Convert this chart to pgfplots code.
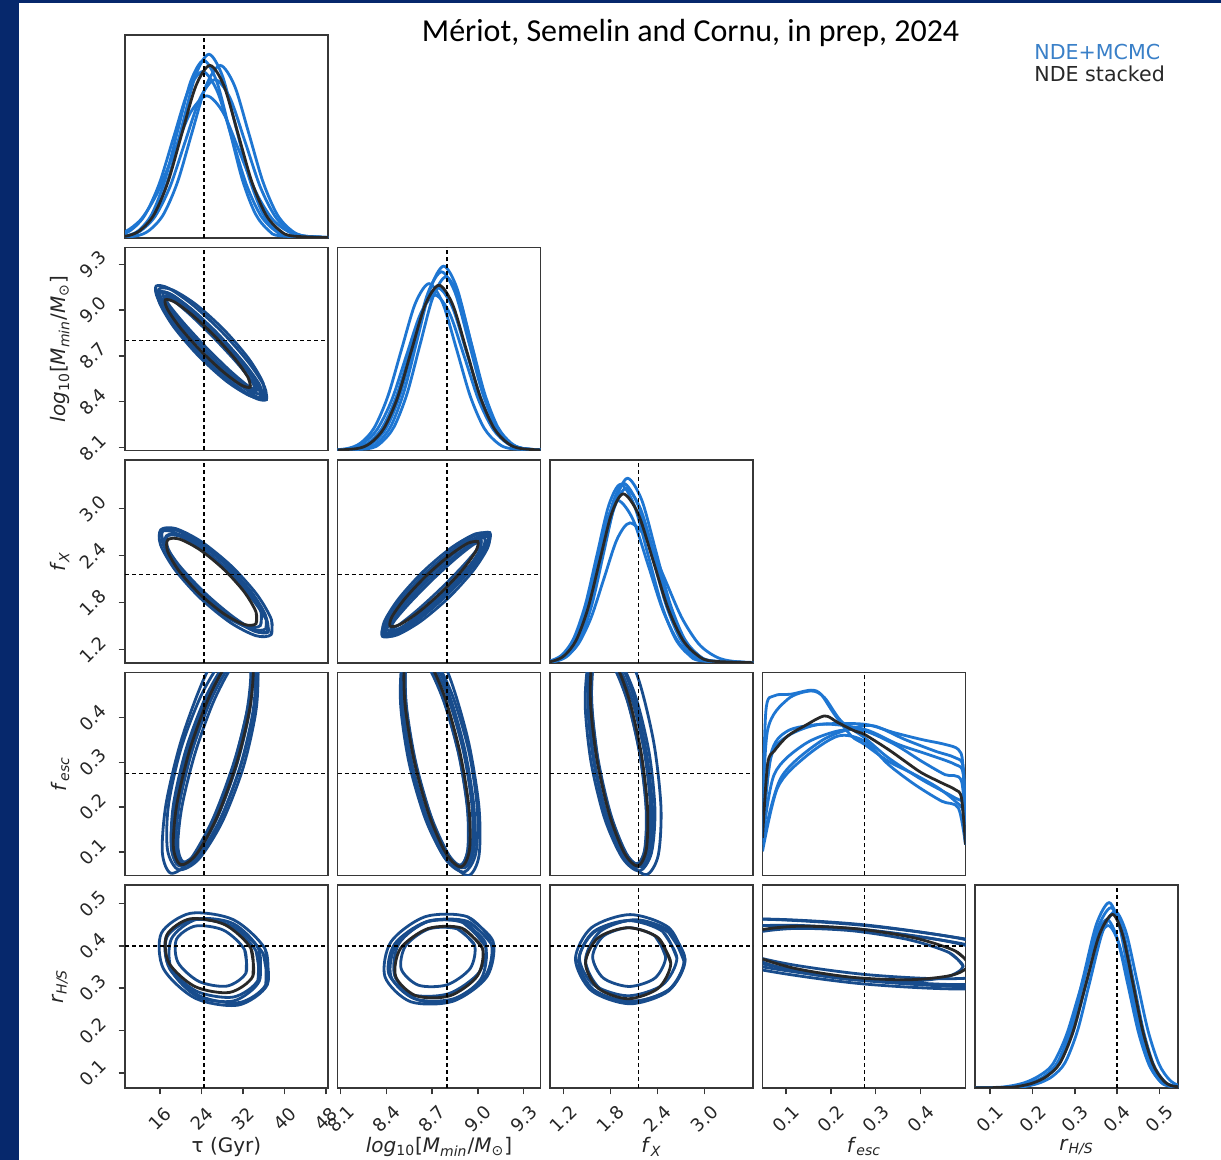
\documentclass[border=0pt]{standalone}
\usepackage{fontspec}
\setmainfont{DejaVu Sans}
\newfontfamily\titlefont{Carlito}
\usepackage{pgfplots}
\pgfplotsset{compat=1.18}

\definecolor{slide}{RGB}{6,40,108}
\definecolor{framecol}{RGB}{55,55,55}
\definecolor{mcmcblue}{RGB}{30,118,210}
\definecolor{contnavy}{RGB}{24,76,140}
\definecolor{stackcol}{RGB}{40,40,40}
\definecolor{legblue}{RGB}{58,128,200}

\newcommand{\lblM}{\textit{log}\textsubscript{10}[\textit{M}\textsubscript{\textit{min}}/\textit{M}\textsubscript{⊙}]}
\newcommand{\lblX}{\textit{f}\textsubscript{\textit{X}}}
\newcommand{\lblE}{\textit{f}\textsubscript{\textit{esc}}}
\newcommand{\lblR}{\textit{r}\textsubscript{\textit{H/S}}}

\pgfplotsset{
  panel/.style={scale only axis, width=101.5pt, height=101.5pt, anchor=north west,
    axis line style={framecol, line width=0.75pt},
    xtick=\empty, ytick=\empty, tick align=outside,
    xtick pos=left, ytick pos=left, major tick length=3.2pt,
    every tick/.style={framecol, line width=0.75pt},
    tick label style={font=\fontsize{9}{10}\selectfont, text=black!85, inner sep=0.5pt},
    xticklabel style={rotate=45, anchor=center},
    yticklabel style={rotate=45, anchor=center},
    xticklabel shift=12pt, yticklabel shift=13pt,
    label style={font=\fontsize{10}{12}\selectfont, text=black!85, inner sep=0pt},
    xlabel style={at={(axis description cs:0.5,-0.29)}, anchor=center},
    ylabel style={at={(axis description cs:-0.32,0.5)}, anchor=center}},
  taux/.style={xmin=9.2, xmax=48.4},
  mx/.style={xmin=8.08, xmax=9.41},
  fxx/.style={xmin=1.03, xmax=3.62},
  ex/.style={xmin=0.048, xmax=0.50},
  rx/.style={xmin=0.064, xmax=0.544},
  my/.style={ymin=8.08, ymax=9.41, ytick={8.1,8.4,8.7,9.0,9.3}, yticklabels={8.1,8.4,8.7,9.0,9.3}},
  fxy/.style={ymin=1.03, ymax=3.62, ytick={1.2,1.8,2.4,3.0}, yticklabels={1.2,1.8,2.4,3.0}},
  ey/.style={ymin=0.048, ymax=0.50, ytick={0.1,0.2,0.3,0.4}, yticklabels={0.1,0.2,0.3,0.4}},
  ry/.style={ymin=0.064, ymax=0.544, ytick={0.1,0.2,0.3,0.4,0.5}, yticklabels={0.1,0.2,0.3,0.4,0.5}},
  my0/.style={ymin=8.08, ymax=9.41},
  fxy0/.style={ymin=1.03, ymax=3.62},
  ey0/.style={ymin=0.048, ymax=0.50},
  ry0/.style={ymin=0.064, ymax=0.544},
  pdf/.style={ymin=0, ymax=1},
  mc/.style={mcmcblue, line width=1.4pt, smooth},
  st/.style={stackcol, line width=1.4pt, smooth},
  ct/.style={contnavy, line width=1.4pt, smooth},
  truth/.style={black, line width=0.9pt, dash pattern=on 2.2pt off 1.3pt},
}

\begin{document}
\begin{tikzpicture}[x=1pt,y=1pt]
\fill[white] (0pt,0pt) rectangle (610.5pt,580pt);
\fill[slide] (0pt,0pt) rectangle (9.5pt,580pt);
\fill[slide] (0pt,578.5pt) rectangle (610.5pt,580pt);
\useasboundingbox (0pt,0pt) rectangle (610.5pt,580pt);

\node[font=\titlefont\fontsize{16}{19}\selectfont, anchor=base] at (345.3pt,559pt) {Mériot, Semelin and Cornu, in prep, 2024};
\node[font=\fontsize{10.3}{12}\selectfont, text=legblue, anchor=base west, inner sep=0pt] at (517pt,550pt) {NDE+MCMC};
\node[font=\fontsize{10.3}{12}\selectfont, text=stackcol, anchor=base west, inner sep=0pt] at (517pt,539pt) {NDE stacked};

% ---------------- row 0 : tau
\begin{axis}[panel, at={(62.5pt,562.5pt)}, taux, pdf]
\addplot[mc] coordinates {(5,0) (9.8,0.010) (12.4,0.040) (15.0,0.122) (17.6,0.294) (20.2,0.549) (22.8,0.799) (25.4,0.905) (28.0,0.799) (30.6,0.549) (33.2,0.294) (35.8,0.122) (38.4,0.040) (41.0,0.010) (52,0)};
\addplot[mc] coordinates {(5,0) (11.1,0.009) (13.85,0.037) (16.6,0.115) (19.35,0.276) (22.1,0.516) (24.85,0.750) (27.6,0.85) (30.35,0.750) (33.1,0.516) (35.85,0.276) (38.6,0.115) (41.35,0.037) (44.1,0.009) (52,0)};
\addplot[mc] coordinates {(5,0) (9.4,0.010) (11.9,0.038) (14.4,0.118) (16.9,0.284) (19.4,0.531) (21.9,0.772) (24.4,0.875) (26.9,0.772) (29.4,0.531) (31.9,0.284) (34.4,0.118) (36.9,0.038) (39.4,0.010) (52,0)};
\addplot[mc] coordinates {(5,0) (6.1,0.008) (9.25,0.031) (12.4,0.095) (15.55,0.227) (18.7,0.425) (21.85,0.618) (25.0,0.70) (28.15,0.618) (31.3,0.425) (34.45,0.227) (37.6,0.095) (40.75,0.031) (43.9,0.008) (52,0)};
\addplot[mc] coordinates {(5,0) (9.2,0.009) (12.1,0.034) (15.0,0.106) (17.9,0.253) (20.8,0.473) (23.7,0.688) (26.6,0.78) (29.5,0.688) (32.4,0.473) (35.3,0.253) (38.2,0.106) (41.1,0.034) (44.0,0.009) (52,0)};
\addplot[mc] coordinates {(5,0) (7.4,0.009) (10.2,0.036) (13.0,0.111) (15.8,0.266) (18.6,0.497) (21.4,0.724) (24.2,0.82) (27.0,0.724) (29.8,0.497) (32.6,0.266) (35.4,0.111) (38.2,0.036) (41.0,0.009) (52,0)};
\addplot[st] coordinates {(5,0) (9.4,0.009) (12.1,0.037) (14.8,0.115) (17.5,0.276) (20.2,0.516) (22.9,0.750) (25.6,0.850) (28.3,0.750) (31.0,0.516) (33.7,0.276) (36.4,0.115) (39.1,0.037) (41.8,0.009) (52,0)};
\addplot[truth] coordinates {(24.4,0) (24.4,1)};
\end{axis}

% ---------------- row 1 : log10 Mmin
\begin{axis}[panel, at={(62.5pt,456.25pt)}, taux, my, ylabel={\lblM}]
\addplot[ct] coordinates {(36.52,8.413) (36.14,8.498) (33.01,8.659) (27.97,8.855) (22.36,9.031) (17.69,9.142) (15.21,9.157) (15.58,9.072) (18.71,8.911) (23.75,8.716) (29.36,8.539) (34.03,8.428) (36.52,8.413) (36.14,8.498)};
\addplot[ct] coordinates {(35.31,8.429) (34.90,8.505) (31.97,8.653) (27.30,8.832) (22.13,8.996) (17.87,9.099) (15.64,9.115) (16.04,9.039) (18.97,8.892) (23.64,8.712) (28.81,8.548) (33.07,8.445) (35.31,8.429) (34.90,8.505)};
\addplot[ct] coordinates {(35.69,8.448) (35.11,8.516) (32.13,8.655) (27.54,8.828) (22.57,8.989) (18.55,9.094) (16.57,9.116) (17.15,9.048) (20.13,8.909) (24.72,8.736) (29.69,8.575) (33.71,8.470) (35.69,8.448) (35.11,8.516)};
\addplot[ct] coordinates {(34.56,8.470) (34.16,8.541) (31.38,8.680) (26.96,8.850) (22.09,9.004) (18.07,9.103) (15.98,9.118) (16.38,9.047) (19.16,8.908) (23.58,8.738) (28.45,8.584) (32.47,8.485) (34.56,8.470) (34.16,8.541)};
\addplot[ct] coordinates {(36.09,8.416) (35.37,8.484) (32.13,8.629) (27.25,8.811) (22.02,8.982) (17.86,9.095) (15.87,9.122) (16.59,9.054) (19.83,8.909) (24.72,8.727) (29.94,8.557) (34.10,8.443) (36.09,8.416) (35.37,8.484)};
\addplot[ct] coordinates {(34.40,8.480) (33.65,8.535) (30.76,8.657) (26.50,8.813) (22.02,8.962) (18.51,9.063) (16.92,9.090) (17.67,9.035) (20.56,8.914) (24.82,8.757) (29.30,8.608) (32.81,8.507) (34.40,8.480) (33.65,8.535)};
\addplot[ct] coordinates {(35.97,8.432) (35.88,8.521) (33.11,8.681) (28.39,8.868) (23.00,9.034) (18.37,9.132) (15.75,9.138) (15.84,9.049) (18.62,8.889) (23.33,8.702) (28.72,8.536) (33.35,8.438) (35.97,8.432) (35.88,8.521)};
\addplot[st] coordinates {(33.39,8.495) (32.99,8.556) (30.51,8.678) (26.60,8.827) (22.31,8.964) (18.80,9.052) (16.99,9.067) (17.39,9.006) (19.87,8.884) (23.78,8.735) (28.07,8.598) (31.59,8.510) (33.39,8.495) (32.99,8.556)};
\addplot[truth] coordinates {(24.4,8.08) (24.4,9.41)};
\addplot[truth] coordinates {(9.2,8.8) (48.4,8.8)};
\end{axis}

\begin{axis}[panel, at={(168.75pt,456.25pt)}, mx, pdf]
\addplot[mc] coordinates {(8.0,0) (8.260,0.010) (8.346,0.040) (8.432,0.123) (8.518,0.295) (8.604,0.551) (8.690,0.801) (8.776,0.908) (8.862,0.801) (8.948,0.551) (9.034,0.295) (9.120,0.123) (9.206,0.040) (9.292,0.010) (9.5,0)};
\addplot[mc] coordinates {(8.0,0) (8.228,0.010) (8.317,0.039) (8.406,0.119) (8.495,0.286) (8.584,0.534) (8.673,0.777) (8.762,0.88) (8.851,0.777) (8.940,0.534) (9.029,0.286) (9.118,0.119) (9.207,0.039) (9.296,0.010) (9.5,0)};
\addplot[mc] coordinates {(8.0,0) (8.14,0.009) (8.23,0.036) (8.32,0.111) (8.41,0.267) (8.50,0.499) (8.59,0.725) (8.68,0.822) (8.77,0.725) (8.86,0.499) (8.95,0.267) (9.04,0.111) (9.13,0.036) (9.22,0.009) (9.5,0)};
\addplot[mc] coordinates {(8.0,0) (8.15,0.008) (8.245,0.034) (8.34,0.104) (8.435,0.248) (8.53,0.464) (8.625,0.675) (8.72,0.765) (8.815,0.675) (8.91,0.464) (9.005,0.248) (9.10,0.104) (9.195,0.034) (9.29,0.008) (9.5,0)};
\addplot[mc] coordinates {(8.0,0) (8.28,0.009) (8.365,0.038) (8.45,0.116) (8.535,0.278) (8.62,0.519) (8.705,0.755) (8.79,0.855) (8.875,0.755) (8.96,0.519) (9.045,0.278) (9.13,0.116) (9.215,0.038) (9.30,0.009) (9.5,0)};
\addplot[mc] coordinates {(8.0,0) (8.185,0.009) (8.2775,0.035) (8.37,0.108) (8.4625,0.260) (8.555,0.485) (8.6475,0.706) (8.74,0.80) (8.8325,0.706) (8.925,0.485) (9.0175,0.260) (9.11,0.108) (9.2025,0.035) (9.295,0.009) (9.5,0)};
\addplot[st] coordinates {(8.0,0) (8.205,0.009) (8.295,0.036) (8.385,0.110) (8.475,0.264) (8.565,0.494) (8.655,0.718) (8.745,0.814) (8.835,0.718) (8.925,0.494) (9.015,0.264) (9.105,0.110) (9.195,0.036) (9.285,0.009) (9.5,0)};
\addplot[truth] coordinates {(8.8,0) (8.8,1)};
\end{axis}

% ---------------- row 2 : f_X
\begin{axis}[panel, at={(62.5pt,350pt)}, taux, fxy, ylabel={\lblX}]
\addplot[ct] coordinates {(37.40,1.391) (37.47,1.584) (34.66,1.905) (29.74,2.267) (24.02,2.575) (19.03,2.744) (16.12,2.731) (16.06,2.538) (18.86,2.218) (23.78,1.855) (29.51,1.547) (34.49,1.378) (37.40,1.391) (37.47,1.584)};
\addplot[ct] coordinates {(36.38,1.467) (36.34,1.639) (33.64,1.933) (29.02,2.270) (23.71,2.559) (19.13,2.723) (16.52,2.718) (16.56,2.545) (19.26,2.251) (23.88,1.914) (29.19,1.625) (33.77,1.461) (36.38,1.467) (36.34,1.639)};
\addplot[ct] coordinates {(36.69,1.432) (36.55,1.594) (33.86,1.874) (29.34,2.199) (24.21,2.482) (19.83,2.646) (17.39,2.648) (17.53,2.487) (20.22,2.206) (24.74,1.881) (29.87,1.598) (34.25,1.434) (36.69,1.432) (36.55,1.594)};
\addplot[ct] coordinates {(35.33,1.507) (35.47,1.678) (33.13,1.956) (28.96,2.267) (24.05,2.527) (19.74,2.668) (17.17,2.651) (17.03,2.480) (19.37,2.203) (23.55,1.892) (28.45,1.631) (32.76,1.490) (35.33,1.507) (35.47,1.678)};
\addplot[ct] coordinates {(36.86,1.423) (36.50,1.579) (33.51,1.866) (28.67,2.207) (23.29,2.510) (18.81,2.693) (16.42,2.709) (16.78,2.553) (19.77,2.266) (24.61,1.925) (29.99,1.623) (34.47,1.439) (36.86,1.423) (36.50,1.579)};
\addplot[st] coordinates {(34.49,1.530) (34.50,1.681) (32.23,1.936) (28.28,2.225) (23.71,2.472) (19.76,2.610) (17.47,2.602) (17.46,2.451) (19.73,2.196) (23.68,1.907) (28.25,1.660) (32.20,1.522) (34.49,1.530) (34.50,1.681)};
\addplot[truth] coordinates {(24.4,1.03) (24.4,3.62)};
\addplot[truth] coordinates {(9.2,2.16) (48.4,2.16)};
\end{axis}

\begin{axis}[panel, at={(168.75pt,350pt)}, mx, fxy0]
\addplot[ct] coordinates {(9.078,2.694) (8.996,2.675) (8.842,2.484) (8.657,2.172) (8.490,1.822) (8.387,1.528) (8.374,1.370) (8.456,1.389) (8.610,1.580) (8.795,1.892) (8.962,2.242) (9.065,2.536) (9.078,2.694) (8.996,2.675)};
\addplot[ct] coordinates {(9.043,2.626) (8.969,2.605) (8.829,2.425) (8.658,2.135) (8.503,1.813) (8.406,1.545) (8.393,1.402) (8.467,1.424) (8.607,1.603) (8.778,1.893) (8.933,2.215) (9.030,2.484) (9.043,2.626) (8.969,2.605)};
\addplot[ct] coordinates {(9.069,2.675) (8.999,2.642) (8.857,2.449) (8.683,2.147) (8.523,1.819) (8.419,1.551) (8.399,1.415) (8.470,1.448) (8.611,1.641) (8.785,1.943) (8.945,2.271) (9.049,2.539) (9.069,2.675) (8.999,2.642)};
\addplot[ct] coordinates {(9.018,2.603) (8.945,2.591) (8.809,2.428) (8.647,2.157) (8.503,1.852) (8.415,1.593) (8.406,1.451) (8.479,1.463) (8.615,1.626) (8.777,1.897) (8.921,2.202) (9.009,2.461) (9.018,2.603) (8.945,2.591)};
\addplot[ct] coordinates {(9.069,2.648) (9.000,2.609) (8.859,2.409) (8.683,2.102) (8.519,1.770) (8.412,1.502) (8.390,1.370) (8.458,1.409) (8.599,1.609) (8.775,1.916) (8.939,2.248) (9.046,2.516) (9.069,2.648) (9.000,2.609)};
\addplot[ct] coordinates {(9.022,2.585) (8.968,2.538) (8.849,2.354) (8.697,2.083) (8.553,1.796) (8.454,1.572) (8.429,1.469) (8.482,1.516) (8.601,1.700) (8.753,1.971) (8.897,2.258) (8.996,2.482) (9.022,2.585) (8.968,2.538)};
\addplot[ct] coordinates {(9.070,2.680) (8.983,2.677) (8.826,2.501) (8.643,2.200) (8.482,1.853) (8.386,1.555) (8.382,1.384) (8.469,1.387) (8.626,1.563) (8.809,1.864) (8.970,2.211) (9.066,2.509) (9.070,2.680) (8.983,2.677)};
\addplot[st] coordinates {(8.999,2.580) (8.935,2.559) (8.812,2.399) (8.661,2.142) (8.525,1.859) (8.438,1.624) (8.425,1.500) (8.489,1.521) (8.613,1.681) (8.763,1.938) (8.900,2.221) (8.986,2.456) (8.999,2.580) (8.935,2.559)};
\addplot[truth] coordinates {(8.8,1.03) (8.8,3.62)};
\addplot[truth] coordinates {(8.08,2.16) (9.41,2.16)};
\end{axis}

\begin{axis}[panel, at={(275pt,350pt)}, fxx, pdf]
\addplot[mc] coordinates {(0.9,0) (1.12,0.010) (1.27,0.040) (1.42,0.123) (1.57,0.295) (1.72,0.552) (1.87,0.803) (2.02,0.91) (2.20,0.803) (2.38,0.552) (2.56,0.295) (2.74,0.123) (2.92,0.040) (3.10,0.010) (3.8,0)};
\addplot[mc] coordinates {(0.9,0) (1.10,0.010) (1.245,0.039) (1.39,0.120) (1.535,0.287) (1.68,0.537) (1.825,0.781) (1.97,0.885) (2.15,0.781) (2.33,0.537) (2.51,0.287) (2.69,0.120) (2.87,0.039) (3.05,0.010) (3.8,0)};
\addplot[mc] coordinates {(0.9,0) (1.06,0.009) (1.20,0.035) (1.34,0.108) (1.48,0.260) (1.62,0.485) (1.76,0.706) (1.90,0.80) (2.09,0.706) (2.28,0.485) (2.47,0.260) (2.66,0.108) (2.85,0.035) (3.04,0.009) (3.8,0)};
\addplot[mc] coordinates {(0.9,0) (1.06,0.008) (1.225,0.030) (1.39,0.093) (1.555,0.224) (1.72,0.418) (1.885,0.609) (2.05,0.69) (2.27,0.609) (2.49,0.418) (2.71,0.224) (2.93,0.093) (3.15,0.030) (3.37,0.008) (3.8,0)};
\addplot[mc] coordinates {(0.9,0) (1.07,0.010) (1.225,0.038) (1.38,0.116) (1.535,0.279) (1.69,0.522) (1.845,0.759) (2.00,0.86) (2.185,0.759) (2.37,0.522) (2.555,0.279) (2.74,0.116) (2.925,0.038) (3.11,0.010) (3.8,0)};
\addplot[mc] coordinates {(0.9,0) (1.03,0.010) (1.18,0.039) (1.33,0.119) (1.48,0.286) (1.63,0.534) (1.78,0.777) (1.93,0.88) (2.105,0.777) (2.28,0.534) (2.455,0.286) (2.63,0.119) (2.805,0.039) (2.98,0.010) (3.8,0)};
\addplot[st] coordinates {(0.9,0) (1.065,0.009) (1.215,0.037) (1.365,0.113) (1.515,0.270) (1.665,0.505) (1.815,0.735) (1.965,0.833) (2.155,0.735) (2.345,0.505) (2.535,0.270) (2.725,0.113) (2.915,0.037) (3.105,0.009) (3.8,0)};
\addplot[truth] coordinates {(2.16,0) (2.16,1)};
\end{axis}

% ---------------- row 3 : f_esc
\begin{axis}[panel, at={(62.5pt,243.75pt)}, taux, ey, ylabel={\lblE}]
\addplot[ct] coordinates {(32.55,0.552) (29.08,0.529) (24.85,0.447) (20.99,0.329) (18.55,0.206) (18.17,0.111) (19.95,0.070) (23.42,0.093) (27.65,0.175) (31.51,0.293) (33.95,0.416) (34.34,0.511) (32.55,0.552) (29.08,0.529)};
\addplot[ct] coordinates {(32.05,0.544) (28.87,0.520) (24.89,0.439) (21.17,0.323) (18.70,0.202) (18.15,0.109) (19.67,0.069) (22.85,0.093) (26.83,0.174) (30.55,0.290) (33.02,0.411) (33.57,0.504) (32.05,0.544) (28.87,0.520)};
\addplot[ct] coordinates {(33.25,0.561) (29.95,0.537) (25.82,0.453) (21.96,0.332) (19.41,0.207) (18.85,0.111) (20.43,0.070) (23.73,0.094) (27.86,0.178) (31.72,0.299) (34.28,0.424) (34.84,0.520) (33.25,0.561) (29.95,0.537)};
\addplot[ct] coordinates {(32.53,0.542) (29.55,0.518) (25.75,0.438) (22.13,0.324) (19.67,0.205) (19.03,0.115) (20.38,0.076) (23.35,0.100) (27.15,0.180) (30.77,0.294) (33.23,0.412) (33.87,0.503) (32.53,0.542) (29.55,0.518)};
\addplot[ct] coordinates {(32.47,0.605) (28.88,0.577) (24.32,0.483) (20.01,0.347) (17.12,0.207) (16.41,0.099) (18.07,0.053) (21.66,0.081) (26.22,0.175) (30.53,0.311) (33.42,0.451) (34.13,0.559) (32.47,0.605) (28.88,0.577)};
\addplot[ct] coordinates {(32.59,0.561) (28.71,0.538) (24.12,0.454) (20.05,0.332) (17.59,0.204) (17.41,0.105) (19.54,0.061) (23.41,0.084) (28.00,0.168) (32.07,0.290) (34.53,0.418) (34.72,0.517) (32.59,0.561) (28.71,0.538)};
\addplot[ct] coordinates {(32.41,0.535) (29.74,0.511) (26.18,0.432) (22.70,0.319) (20.22,0.203) (19.41,0.115) (20.49,0.078) (23.16,0.102) (26.72,0.181) (30.20,0.294) (32.68,0.410) (33.49,0.498) (32.41,0.535) (29.74,0.511)};
\addplot[st] coordinates {(32.55,0.555) (29.45,0.530) (25.50,0.447) (21.74,0.329) (19.20,0.206) (18.54,0.112) (19.95,0.072) (23.05,0.096) (27.00,0.179) (30.76,0.298) (33.30,0.420) (33.96,0.515) (32.55,0.555) (29.45,0.530)};
\addplot[truth] coordinates {(24.4,0.048) (24.4,0.50)};
\addplot[truth] coordinates {(9.2,0.275) (48.4,0.275)};
\end{axis}

\begin{axis}[panel, at={(168.75pt,243.75pt)}, mx, ey0]
\addplot[ct] coordinates {(8.577,0.557) (8.683,0.531) (8.803,0.445) (8.905,0.324) (8.962,0.199) (8.959,0.104) (8.895,0.065) (8.790,0.092) (8.669,0.177) (8.567,0.299) (8.510,0.423) (8.514,0.518) (8.577,0.557) (8.683,0.531)};
\addplot[ct] coordinates {(8.562,0.548) (8.661,0.522) (8.775,0.437) (8.874,0.318) (8.931,0.196) (8.932,0.103) (8.875,0.065) (8.776,0.091) (8.661,0.176) (8.562,0.295) (8.505,0.417) (8.505,0.510) (8.562,0.548) (8.661,0.522)};
\addplot[ct] coordinates {(8.590,0.566) (8.693,0.539) (8.812,0.451) (8.914,0.328) (8.974,0.201) (8.974,0.105) (8.914,0.065) (8.811,0.093) (8.693,0.180) (8.590,0.304) (8.530,0.431) (8.530,0.527) (8.590,0.566) (8.693,0.539)};
\addplot[ct] coordinates {(8.578,0.546) (8.670,0.520) (8.779,0.437) (8.875,0.319) (8.933,0.199) (8.937,0.109) (8.886,0.071) (8.794,0.098) (8.685,0.181) (8.589,0.298) (8.531,0.418) (8.527,0.509) (8.578,0.546) (8.670,0.520)};
\addplot[ct] coordinates {(8.576,0.610) (8.691,0.580) (8.824,0.481) (8.940,0.343) (9.007,0.200) (9.007,0.092) (8.940,0.048) (8.825,0.079) (8.692,0.177) (8.576,0.316) (8.509,0.458) (8.509,0.566) (8.576,0.610) (8.691,0.580)};
\addplot[ct] coordinates {(8.580,0.566) (8.700,0.539) (8.831,0.451) (8.940,0.325) (8.996,0.196) (8.986,0.097) (8.910,0.056) (8.791,0.083) (8.659,0.171) (8.550,0.297) (8.494,0.426) (8.505,0.525) (8.580,0.566) (8.700,0.539)};
\addplot[st] coordinates {(8.573,0.560) (8.669,0.532) (8.782,0.446) (8.881,0.324) (8.941,0.200) (8.945,0.106) (8.891,0.067) (8.795,0.095) (8.682,0.181) (8.583,0.302) (8.523,0.427) (8.519,0.521) (8.573,0.560) (8.669,0.532)};
\addplot[truth] coordinates {(8.8,0.048) (8.8,0.50)};
\addplot[truth] coordinates {(8.08,0.275) (9.41,0.275)};
\end{axis}

\begin{axis}[panel, at={(275pt,243.75pt)}, fxx, ey0]
\addplot[ct] coordinates {(1.677,0.555) (1.869,0.527) (2.073,0.441) (2.235,0.321) (2.312,0.197) (2.283,0.105) (2.155,0.067) (1.964,0.095) (1.759,0.181) (1.597,0.302) (1.520,0.425) (1.549,0.518) (1.677,0.555) (1.869,0.527)};
\addplot[ct] coordinates {(1.650,0.546) (1.828,0.518) (2.022,0.434) (2.179,0.315) (2.257,0.194) (2.235,0.103) (2.120,0.067) (1.942,0.095) (1.748,0.179) (1.591,0.298) (1.513,0.419) (1.535,0.510) (1.650,0.546) (1.828,0.518)};
\addplot[ct] coordinates {(1.706,0.564) (1.892,0.535) (2.094,0.448) (2.257,0.325) (2.337,0.199) (2.314,0.105) (2.194,0.067) (2.008,0.096) (1.807,0.183) (1.644,0.306) (1.563,0.432) (1.586,0.526) (1.706,0.564) (1.892,0.535)};
\addplot[ct] coordinates {(1.680,0.544) (1.845,0.517) (2.028,0.433) (2.179,0.317) (2.259,0.198) (2.245,0.109) (2.142,0.074) (1.977,0.101) (1.794,0.184) (1.643,0.301) (1.563,0.420) (1.577,0.509) (1.680,0.544) (1.845,0.517)};
\addplot[ct] coordinates {(1.714,0.609) (1.936,0.577) (2.172,0.478) (2.358,0.340) (2.446,0.199) (2.411,0.093) (2.262,0.050) (2.040,0.081) (1.804,0.180) (1.618,0.318) (1.530,0.459) (1.565,0.565) (1.714,0.609) (1.936,0.577)};
\addplot[ct] coordinates {(1.676,0.564) (1.894,0.536) (2.121,0.447) (2.294,0.322) (2.369,0.194) (2.324,0.098) (2.172,0.058) (1.954,0.087) (1.727,0.175) (1.554,0.300) (1.479,0.428) (1.524,0.525) (1.676,0.564) (1.894,0.536)};
\addplot[st] coordinates {(1.672,0.557) (1.844,0.529) (2.035,0.443) (2.192,0.322) (2.274,0.199) (2.259,0.106) (2.150,0.069) (1.978,0.098) (1.787,0.184) (1.630,0.305) (1.548,0.428) (1.563,0.520) (1.672,0.557) (1.844,0.529)};
\addplot[truth] coordinates {(2.16,0.048) (2.16,0.50)};
\addplot[truth] coordinates {(1.03,0.275) (3.62,0.275)};
\end{axis}

\begin{axis}[panel, at={(381.25pt,243.75pt)}, ex, pdf]
\addplot[mc] coordinates {(0.048,0.25) (0.0555,0.81) (0.0741,0.885) (0.111,0.893) (0.156,0.913) (0.178,0.893) (0.208,0.794) (0.246,0.687) (0.275,0.646) (0.328,0.563) (0.387,0.497) (0.439,0.432) (0.477,0.366) (0.495,0.316) (0.500,0.152)};
\addplot[mc] coordinates {(0.048,0.217) (0.059,0.712) (0.104,0.868) (0.156,0.909) (0.186,0.876) (0.223,0.761) (0.275,0.679) (0.328,0.580) (0.402,0.473) (0.477,0.382) (0.495,0.349) (0.500,0.168)};
\addplot[mc] coordinates {(0.048,0.185) (0.0666,0.596) (0.104,0.712) (0.178,0.745) (0.275,0.745) (0.342,0.703) (0.402,0.670) (0.454,0.646) (0.484,0.621) (0.494,0.55) (0.500,0.217)};
\addplot[mc] coordinates {(0.048,0.168) (0.0741,0.498) (0.141,0.646) (0.216,0.712) (0.275,0.712) (0.342,0.646) (0.402,0.563) (0.454,0.497) (0.491,0.465) (0.500,0.185)};
\addplot[mc] coordinates {(0.048,0.119) (0.0815,0.432) (0.141,0.580) (0.216,0.687) (0.275,0.662) (0.328,0.547) (0.387,0.448) (0.447,0.366) (0.484,0.333) (0.500,0.152)};
\addplot[mc] coordinates {(0.048,0.201) (0.0666,0.580) (0.104,0.687) (0.178,0.745) (0.275,0.720) (0.350,0.646) (0.417,0.596) (0.477,0.547) (0.495,0.498) (0.500,0.201)};
\addplot[mc] coordinates {(0.048,0.152) (0.089,0.481) (0.178,0.662) (0.253,0.728) (0.298,0.736) (0.365,0.670) (0.432,0.613) (0.477,0.580) (0.495,0.530) (0.500,0.217)};
\addplot[st] coordinates {(0.048,0.185) (0.0592,0.547) (0.0741,0.613) (0.104,0.687) (0.141,0.736) (0.186,0.786) (0.216,0.753) (0.253,0.712) (0.275,0.695) (0.328,0.621) (0.365,0.563) (0.402,0.506) (0.447,0.456) (0.477,0.423) (0.491,0.382) (0.500,0.152)};
\addplot[truth] coordinates {(0.275,0) (0.275,1)};
\end{axis}

% ---------------- row 4 : r_H/S
\begin{axis}[panel, at={(62.5pt,137.5pt)}, taux, ry, ylabel={\lblR}, xlabel={τ (Gyr)},
  xtick={16,24,32,40,48}, xticklabels={16,24,32,40,48}]
\addplot[ct] coordinates {(36.68,0.308) (36.28,0.392) (30.12,0.462) (21.81,0.477) (16.22,0.430) (16.62,0.346) (22.78,0.276) (31.09,0.260) (36.68,0.308) (36.28,0.392)};
\addplot[ct] coordinates {(34.88,0.319) (34.47,0.389) (29.14,0.449) (22.00,0.463) (17.24,0.424) (17.65,0.353) (22.98,0.293) (30.12,0.279) (34.88,0.319) (34.47,0.389)};
\addplot[ct] coordinates {(36.37,0.308) (35.87,0.382) (30.09,0.446) (22.40,0.462) (17.31,0.421) (17.81,0.346) (23.59,0.282) (31.28,0.266) (36.37,0.308) (35.87,0.382)};
\addplot[ct] coordinates {(32.56,0.336) (32.29,0.391) (28.25,0.437) (22.81,0.447) (19.16,0.416) (19.43,0.361) (23.47,0.316) (28.91,0.305) (32.56,0.336) (32.29,0.391)};
\addplot[ct] coordinates {(35.11,0.316) (35.04,0.392) (30.06,0.453) (23.07,0.463) (18.17,0.417) (18.24,0.341) (23.22,0.280) (30.21,0.270) (35.11,0.316) (35.04,0.392)};
\addplot[st] coordinates {(33.88,0.328) (33.51,0.394) (28.50,0.450) (21.78,0.464) (17.30,0.426) (17.67,0.360) (22.69,0.304) (29.40,0.290) (33.88,0.328) (33.51,0.394)};
\addplot[truth] coordinates {(24.4,0.064) (24.4,0.544)};
\addplot[truth] coordinates {(9.2,0.4) (48.4,0.4)};
\end{axis}

\begin{axis}[panel, at={(168.75pt,137.5pt)}, mx, ry0, xlabel={\lblM},
  xtick={8.1,8.4,8.7,9.0,9.3}, xticklabels={8.1,8.4,8.7,9.0,9.3}]
\addplot[ct] coordinates {(9.099,0.411) (8.931,0.469) (8.654,0.469) (8.431,0.410) (8.391,0.327) (8.559,0.268) (8.836,0.269) (9.059,0.327) (9.099,0.411) (8.931,0.469)};
\addplot[ct] coordinates {(9.048,0.408) (8.901,0.457) (8.656,0.456) (8.455,0.405) (8.416,0.334) (8.563,0.285) (8.808,0.287) (9.009,0.338) (9.048,0.408) (8.901,0.457)};
\addplot[ct] coordinates {(9.087,0.405) (8.932,0.458) (8.676,0.458) (8.467,0.404) (8.430,0.328) (8.584,0.275) (8.841,0.275) (9.049,0.329) (9.087,0.405) (8.932,0.458)};
\addplot[ct] coordinates {(8.978,0.402) (8.866,0.440) (8.678,0.440) (8.526,0.400) (8.498,0.345) (8.611,0.307) (8.798,0.308) (8.950,0.347) (8.978,0.402) (8.866,0.440)};
\addplot[ct] coordinates {(9.049,0.399) (8.902,0.455) (8.668,0.458) (8.482,0.405) (8.455,0.329) (8.602,0.273) (8.837,0.271) (9.022,0.323) (9.049,0.399) (8.902,0.455)};
\addplot[st] coordinates {(9.029,0.395) (8.895,0.442) (8.673,0.441) (8.493,0.394) (8.461,0.328) (8.595,0.282) (8.817,0.282) (8.997,0.329) (9.029,0.395) (8.895,0.442)};
\addplot[truth] coordinates {(8.8,0.064) (8.8,0.544)};
\addplot[truth] coordinates {(8.08,0.4) (9.41,0.4)};
\end{axis}

\begin{axis}[panel, at={(275pt,137.5pt)}, fxx, ry0, xlabel={\lblX},
  xtick={1.2,1.8,2.4,3.0}, xticklabels={1.2,1.8,2.4,3.0}]
\addplot[ct] coordinates {(2.752,0.369) (2.547,0.443) (2.053,0.474) (1.559,0.443) (1.354,0.369) (1.559,0.294) (2.053,0.263) (2.547,0.294) (2.752,0.369) (2.547,0.443)};
\addplot[ct] coordinates {(2.649,0.371) (2.467,0.434) (2.027,0.460) (1.588,0.434) (1.405,0.371) (1.588,0.308) (2.027,0.282) (2.467,0.308) (2.649,0.371) (2.467,0.434)};
\addplot[ct] coordinates {(2.739,0.364) (2.542,0.432) (2.066,0.460) (1.590,0.432) (1.393,0.364) (1.590,0.296) (2.066,0.268) (2.542,0.296) (2.739,0.364) (2.542,0.432)};
\addplot[ct] coordinates {(2.506,0.374) (2.370,0.423) (2.040,0.443) (1.710,0.423) (1.574,0.374) (1.710,0.324) (2.040,0.304) (2.370,0.324) (2.506,0.374) (2.370,0.423)};
\addplot[ct] coordinates {(2.753,0.366) (2.567,0.434) (2.118,0.462) (1.669,0.434) (1.483,0.366) (1.669,0.299) (2.118,0.270) (2.567,0.299) (2.753,0.366) (2.567,0.434)};
\addplot[st] coordinates {(2.571,0.359) (2.412,0.419) (2.027,0.443) (1.643,0.419) (1.483,0.359) (1.643,0.300) (2.027,0.275) (2.412,0.300) (2.571,0.359) (2.412,0.419)};
\addplot[truth] coordinates {(2.16,0.064) (2.16,0.544)};
\addplot[truth] coordinates {(1.03,0.4) (3.62,0.4)};
\end{axis}

\begin{axis}[panel, at={(381.25pt,137.5pt)}, ex, ry0, xlabel={\lblE},
  xtick={0.1,0.2,0.3,0.4}, xticklabels={0.1,0.2,0.3,0.4}]
\addplot[ct] coordinates {(0.7245,0.3357) (0.6672,0.3743) (0.5046,0.4153) (0.2804,0.4477) (0.0544,0.4629) (-0.1126,0.4565) (-0.1759,0.4307) (-0.1186,0.3921) (0.0440,0.3511) (0.2683,0.3187) (0.4942,0.3035) (0.6612,0.3099) (0.7245,0.3357) (0.6672,0.3743)};
\addplot[ct] coordinates {(0.6660,0.3380) (0.6174,0.3721) (0.4794,0.4078) (0.2887,0.4357) (0.0966,0.4482) (-0.0454,0.4421) (-0.0994,0.4188) (-0.0508,0.3847) (0.0872,0.3490) (0.2779,0.3211) (0.4700,0.3086) (0.6120,0.3147) (0.6660,0.3380) (0.6174,0.3721)};
\addplot[ct] coordinates {(0.6929,0.3357) (0.6389,0.3764) (0.4847,0.4182) (0.2717,0.4501) (0.0569,0.4634) (-0.1019,0.4546) (-0.1625,0.4259) (-0.1085,0.3852) (0.0457,0.3434) (0.2587,0.3115) (0.4735,0.2982) (0.6323,0.3070) (0.6929,0.3357) (0.6389,0.3764)};
\addplot[ct] coordinates {(0.6120,0.3500) (0.5692,0.3811) (0.4475,0.4133) (0.2792,0.4381) (0.1097,0.4489) (-0.0156,0.4427) (-0.0634,0.4212) (-0.0206,0.3901) (0.1011,0.3579) (0.2694,0.3331) (0.4389,0.3223) (0.5642,0.3285) (0.6120,0.3500) (0.5692,0.3811)};
\addplot[ct] coordinates {(0.4947,0.3518) (0.4636,0.3841) (0.3734,0.4147) (0.2480,0.4357) (0.1212,0.4413) (0.0270,0.4301) (-0.0095,0.4050) (0.0216,0.3727) (0.1118,0.3421) (0.2372,0.3211) (0.3640,0.3155) (0.4582,0.3267) (0.4947,0.3518) (0.4636,0.3841)};
\addplot[st] coordinates {(0.5082,0.3561) (0.4765,0.3884) (0.3846,0.4192) (0.2570,0.4405) (0.1280,0.4464) (0.0321,0.4354) (-0.0050,0.4103) (0.0267,0.3780) (0.1186,0.3472) (0.2462,0.3259) (0.3752,0.3200) (0.4711,0.3310) (0.5082,0.3561) (0.4765,0.3884)};
\addplot[truth] coordinates {(0.275,0.064) (0.275,0.544)};
\addplot[truth] coordinates {(0.048,0.4) (0.50,0.4)};
\end{axis}

\begin{axis}[panel, at={(487.5pt,137.5pt)}, rx, pdf, xlabel={\lblR},
  xtick={0.1,0.2,0.3,0.4,0.5}, xticklabels={0.1,0.2,0.3,0.4,0.5}]
\addplot[mc] coordinates {(0.03,0) (0.141,0.003) (0.171,0.010) (0.201,0.026) (0.231,0.058) (0.261,0.130) (0.291,0.296) (0.321,0.554) (0.351,0.806) (0.381,0.913) (0.4045,0.806) (0.428,0.554) (0.4515,0.296) (0.475,0.124) (0.4985,0.040) (0.522,0.010) (0.6,0)};
\addplot[mc] coordinates {(0.03,0) (0.133,0.003) (0.1645,0.010) (0.196,0.026) (0.2275,0.058) (0.259,0.125) (0.2905,0.288) (0.322,0.539) (0.3535,0.784) (0.385,0.888) (0.4095,0.784) (0.434,0.539) (0.4585,0.288) (0.483,0.120) (0.5075,0.039) (0.532,0.010) (0.6,0)};
\addplot[mc] coordinates {(0.03,0) (0.144,0.003) (0.173,0.010) (0.202,0.026) (0.231,0.058) (0.26,0.12) (0.289,0.270) (0.318,0.503) (0.347,0.732) (0.376,0.83) (0.401,0.732) (0.426,0.503) (0.451,0.270) (0.476,0.112) (0.501,0.036) (0.526,0.009) (0.6,0)};
\addplot[mc] coordinates {(0.03,0) (0.136,0.003) (0.168,0.010) (0.2,0.026) (0.232,0.058) (0.264,0.124) (0.296,0.279) (0.328,0.522) (0.36,0.759) (0.392,0.86) (0.4155,0.759) (0.439,0.522) (0.4625,0.279) (0.486,0.116) (0.5095,0.038) (0.533,0.010) (0.6,0)};
\addplot[mc] coordinates {(0.03,0) (0.115,0.003) (0.148,0.010) (0.181,0.026) (0.214,0.058) (0.247,0.115) (0.28,0.260) (0.313,0.485) (0.346,0.706) (0.379,0.80) (0.405,0.706) (0.431,0.485) (0.457,0.260) (0.483,0.108) (0.509,0.035) (0.535,0.009) (0.6,0)};
\addplot[mc] coordinates {(0.03,0) (0.159,0.003) (0.1885,0.010) (0.218,0.026) (0.2475,0.058) (0.277,0.125) (0.3065,0.283) (0.336,0.528) (0.3655,0.768) (0.395,0.87) (0.421,0.768) (0.447,0.528) (0.473,0.283) (0.499,0.118) (0.525,0.038) (0.551,0.010) (0.6,0)};
\addplot[st] coordinates {(0.03,0) (0.141,0.003) (0.172,0.010) (0.203,0.026) (0.234,0.058) (0.265,0.123) (0.296,0.278) (0.327,0.519) (0.358,0.755) (0.389,0.855) (0.413,0.755) (0.437,0.519) (0.461,0.278) (0.485,0.116) (0.509,0.038) (0.533,0.009) (0.6,0)};
\addplot[truth] coordinates {(0.4,0) (0.4,1)};
\end{axis}
\end{tikzpicture}
\end{document}
